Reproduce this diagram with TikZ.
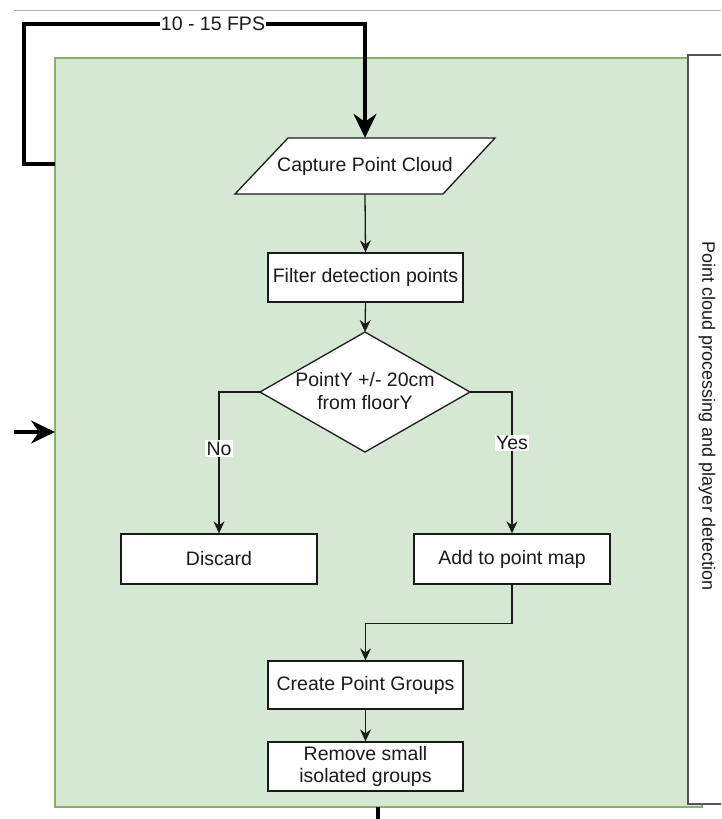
\documentclass[tikz,border=0pt]{standalone}
\usepackage{fontspec}
\setmainfont{Liberation Sans}
\usetikzlibrary{arrows.meta}
\definecolor{panelfill}{HTML}{D5E8D4}
\definecolor{panelline}{HTML}{82B366}
\definecolor{ink}{HTML}{1A1A1A}
\definecolor{rule}{HTML}{B4B4B4}
\begin{document}
\begin{tikzpicture}[x=1pt,y=-1pt,
  every node/.style={font=\fontsize{19.5}{22.5}\selectfont, text=ink},
  box/.style={draw=ink, line width=1.3pt, fill=white, minimum width=195, minimum height=49, inner sep=0, align=center},
  plain/.style={inner sep=0, align=center},
  outline/.style={draw=ink, line width=1.3pt, fill=white, line join=miter},
  flow/.style={draw=ink, line width=1.3pt, -{Stealth[length=12pt,width=11pt,inset=4pt]}},
  heavy/.style={draw=black, line width=3.2pt},
  heavyflow/.style={heavy, -{Stealth[length=24pt,width=23pt,inset=8pt]}},
  tag/.style={fill=white, inner sep=1.5pt},
]
\useasboundingbox (0,0) rectangle (721,819);
\clip (0,0) rectangle (721,819);
\fill[white] (0,0) rectangle (721,819);

% page rule
\draw[rule, line width=1pt] (14,10.5) -- (721,10.5);

% processing panel
\draw[fill=panelfill, draw=panelline, line width=1.3pt] (55,58) rectangle (702,807);
\node[draw=ink!75, line width=1.3pt, fill=white, minimum width=52, minimum height=749, inner sep=0] (side) at (714,429.5) {};
\node[plain, rotate=-90, font=\fontsize{18}{21}\selectfont] (sidetxt) at (707,416) {Point cloud processing and player detection};

% capture step (parallelogram)
\draw[outline] (235,194) -- (288,138) -- (495,138) -- (443,194) -- cycle;
\node[plain, minimum width=150, minimum height=56] (cap) at (365,166) {Capture Point Cloud};

% processing steps
\node[box] (filt) at (365.5,277.5) {Filter detection points};

% decision
\coordinate (decN) at (365,332);
\coordinate (decE) at (470,392);
\coordinate (decS) at (365,452);
\coordinate (decW) at (260,392);
\draw[outline] (decN) -- (decE) -- (decS) -- (decW) -- cycle;
\node[plain] (dec) at (365,391) {PointY +/- 20cm\\from floorY};

\node[box, minimum width=196, minimum height=50] (disc) at (219,559) {Discard};
\node[box, minimum width=196, minimum height=50] (add) at (512,559) {Add to point map};
\node[box, minimum height=48] (grp) at (365.5,685) {Create Point Groups};
\node[box] (rem) at (365.5,766.5) {Remove small\\isolated groups};

% connectors
\draw[flow] (cap.south) -- (filt.north);
\draw[flow] (filt.south) -- (decN);
\draw[flow] (decW) -| node[tag, pos=0.70] (no) {No} (disc.north);
\draw[flow] (decE) -| node[tag, pos=0.68] (yes) {Yes} (add.north);
\draw[flow] (add.south) -- ++(0,39) -| (grp.north);
\draw[flow] (grp.south) -- (rem.north);

% frame loop, input and output
\coordinate (loopstart) at (55,164);
\coordinate (loopcorner) at (24,24);
\draw[heavyflow] (loopstart) -| (loopcorner) -| (cap.north);
\node[tag, inner sep=0.5pt] (fps) at (213,24) {10 - 15 FPS};

\coordinate (feed) at (14,432);
\coordinate (feedend) at (55,432);
\draw[heavyflow] (feed) -- (feedend);

\coordinate (outtop) at (378,807);
\coordinate (outbot) at (378,822);
\draw[heavy] (outtop) -- (outbot);
\end{tikzpicture}
\end{document}
